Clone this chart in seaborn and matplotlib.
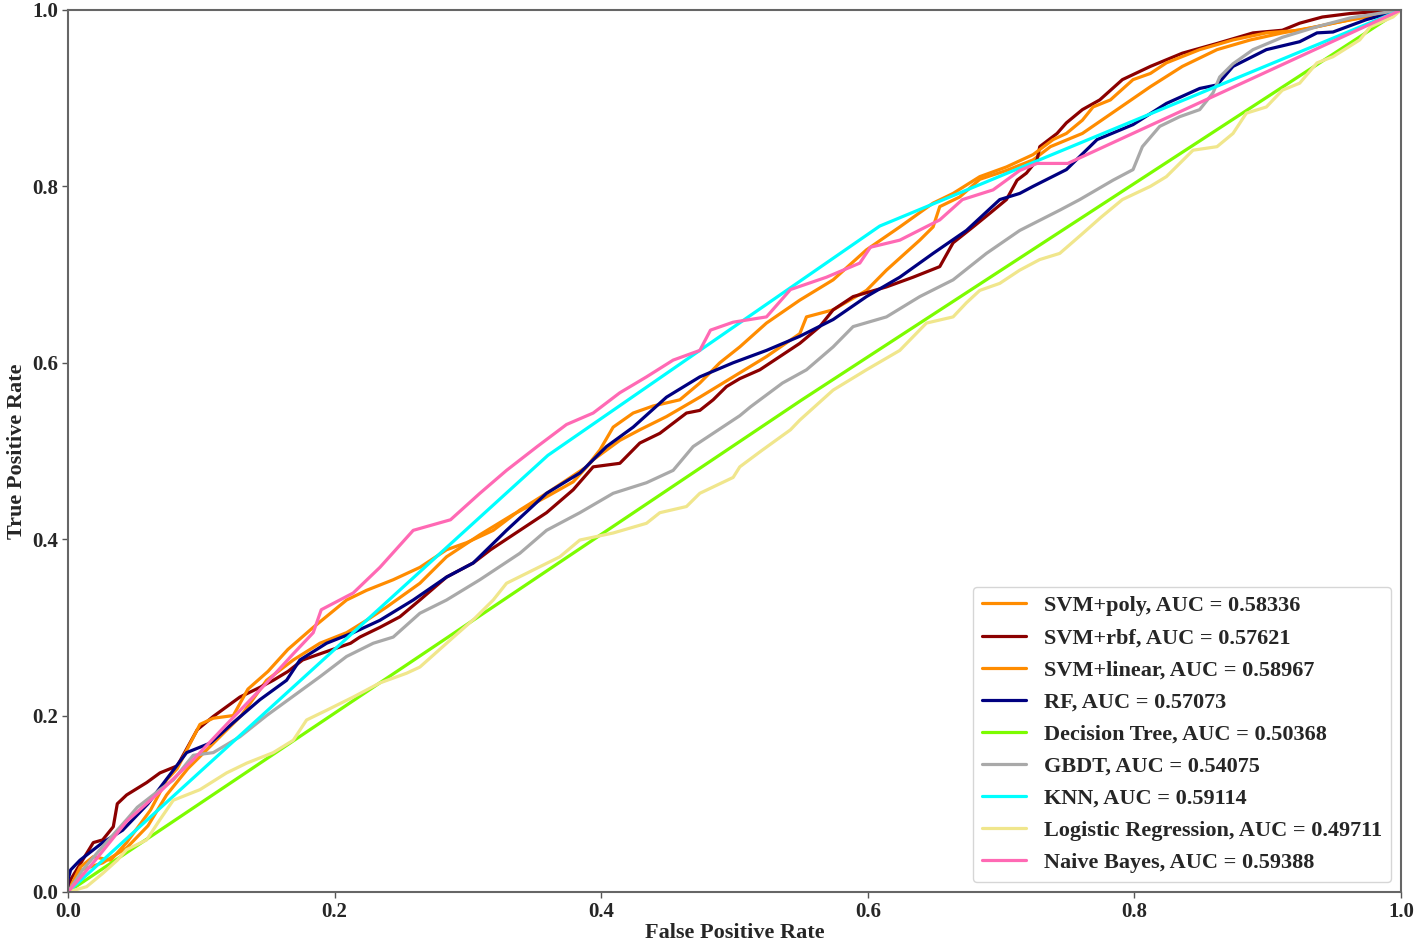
import pandas as pd
import matplotlib
matplotlib.use("Agg")
import matplotlib.pyplot as plt
import seaborn as sns

# ROC points, one pair of lists per model
models = ["SVM+poly", "SVM+rbf", "SVM+linear", "RF", "Decision Tree",
          "GBDT", "KNN", "Logistic Regression", "Naive Bayes"]
aucs = [0.58336, 0.57621, 0.58967, 0.57073, 0.50368, 0.54075, 0.59114, 0.49711, 0.59388]
colors = ["#ff8c00", "#8b0000", "#ff8c00", "#000080", "#7cfc00",
          "#a9a9a9", "#00ffff", "#f0e68c", "#ff69b4"]

poly_fpr = [0, 0.01, 0.026, 0.044, 0.06, 0.074, 0.09, 0.11, 0.13, 0.149, 0.169, 0.189, 0.209, 0.224,
            0.239, 0.264, 0.284, 0.309, 0.334, 0.359, 0.379, 0.394, 0.414, 0.429, 0.449, 0.474, 0.499,
            0.524, 0.549, 0.554, 0.574, 0.599, 0.614, 0.639, 0.649, 0.654, 0.669, 0.684, 0.704, 0.724,
            0.737, 0.761, 0.787, 0.812, 0.836, 0.862, 0.887, 0.911, 0.937, 0.962, 1]
poly_tpr = [0, 0.025, 0.033, 0.05, 0.075, 0.11, 0.14, 0.17, 0.2, 0.24, 0.263, 0.282, 0.294, 0.308,
            0.323, 0.35, 0.38, 0.405, 0.428, 0.448, 0.465, 0.49, 0.512, 0.524, 0.539, 0.561, 0.584,
            0.607, 0.633, 0.652, 0.66, 0.682, 0.705, 0.739, 0.754, 0.777, 0.788, 0.808, 0.818, 0.83,
            0.845, 0.86, 0.887, 0.913, 0.936, 0.955, 0.966, 0.974, 0.981, 0.989, 1]

rbf_fpr = [0, 0.002, 0.019, 0.026, 0.034, 0.037, 0.044, 0.059, 0.069, 0.082, 0.097, 0.109, 0.119,
           0.129, 0.144, 0.154, 0.165, 0.176, 0.191, 0.212, 0.219, 0.234, 0.249, 0.264, 0.284, 0.304,
           0.317, 0.339, 0.359, 0.379, 0.394, 0.414, 0.429, 0.444, 0.464, 0.474, 0.484, 0.494, 0.504,
           0.519, 0.549, 0.564, 0.574, 0.589, 0.614, 0.634, 0.654, 0.664, 0.679, 0.692, 0.704, 0.712,
           0.719, 0.727, 0.729, 0.742, 0.749, 0.761, 0.774, 0.791, 0.812, 0.836, 0.862, 0.889, 0.911,
           0.924, 0.941, 0.962, 1]
rbf_tpr = [0, 0.014, 0.056, 0.059, 0.074, 0.1, 0.11, 0.124, 0.135, 0.143, 0.184, 0.199, 0.21,
           0.221, 0.232, 0.24, 0.25, 0.263, 0.271, 0.282, 0.289, 0.3, 0.312, 0.331, 0.357, 0.373,
           0.388, 0.41, 0.43, 0.456, 0.482, 0.486, 0.509, 0.52, 0.543, 0.546, 0.558, 0.573, 0.582,
           0.592, 0.622, 0.641, 0.66, 0.675, 0.686, 0.697, 0.709, 0.736, 0.754, 0.77, 0.785, 0.807,
           0.815, 0.83, 0.845, 0.86, 0.872, 0.887, 0.898, 0.921, 0.936, 0.951, 0.962, 0.974, 0.977,
           0.985, 0.992, 0.996, 1]

linear_fpr = [0, 0.009, 0.019, 0.032, 0.044, 0.062, 0.074, 0.082, 0.099, 0.109, 0.124, 0.135, 0.15,
              0.165, 0.184, 0.209, 0.224, 0.244, 0.264, 0.284, 0.299, 0.319, 0.339, 0.359, 0.374,
              0.389, 0.399, 0.409, 0.424, 0.439, 0.459, 0.474, 0.489, 0.504, 0.524, 0.549, 0.574,
              0.599, 0.624, 0.649, 0.664, 0.684, 0.704, 0.724, 0.739, 0.749, 0.761, 0.769, 0.782,
              0.799, 0.812, 0.824, 0.849, 0.874, 0.899, 0.924, 0.949, 0.974, 1]
linear_tpr = [0, 0.028, 0.04, 0.036, 0.056, 0.093, 0.127, 0.14, 0.19, 0.197, 0.2, 0.23, 0.25,
              0.275, 0.3, 0.331, 0.342, 0.354, 0.368, 0.388, 0.396, 0.41, 0.433, 0.452, 0.467,
              0.482, 0.501, 0.527, 0.543, 0.551, 0.558, 0.577, 0.6, 0.618, 0.645, 0.671, 0.694,
              0.728, 0.754, 0.781, 0.792, 0.811, 0.822, 0.836, 0.853, 0.86, 0.875, 0.89, 0.898,
              0.921, 0.928, 0.94, 0.955, 0.966, 0.974, 0.977, 0.985, 0.992, 1]

rf_fpr = [0, 0, 0.002, 0.009, 0.026, 0.041, 0.06, 0.075, 0.089, 0.107, 0.124, 0.144, 0.164, 0.174,
          0.194, 0.214, 0.234, 0.259, 0.284, 0.304, 0.329, 0.359, 0.384, 0.404, 0.424, 0.449, 0.474,
          0.499, 0.524, 0.549, 0.574, 0.599, 0.624, 0.649, 0.674, 0.699, 0.714, 0.724, 0.749, 0.772,
          0.799, 0.824, 0.849, 0.862, 0.874, 0.899, 0.924, 0.937, 0.949, 0.974, 1]
rf_tpr = [0, 0.014, 0.025, 0.036, 0.056, 0.07, 0.1, 0.13, 0.158, 0.169, 0.192, 0.218, 0.24, 0.263,
          0.282, 0.294, 0.308, 0.331, 0.357, 0.373, 0.41, 0.452, 0.475, 0.505, 0.527, 0.561, 0.584,
          0.6, 0.614, 0.63, 0.649, 0.675, 0.697, 0.724, 0.75, 0.785, 0.792, 0.8, 0.819, 0.853,
          0.87, 0.894, 0.911, 0.915, 0.936, 0.955, 0.964, 0.974, 0.975, 0.989, 1]

dt_fpr = [0, 0.55, 1]
dt_tpr = [0, 0.5574, 1]

gbdt_fpr = [0, 0.011, 0.024, 0.044, 0.052, 0.069, 0.079, 0.094, 0.109, 0.129, 0.149, 0.169, 0.189,
            0.209, 0.229, 0.244, 0.264, 0.284, 0.309, 0.339, 0.359, 0.384, 0.409, 0.434, 0.454,
            0.469, 0.484, 0.504, 0.512, 0.536, 0.554, 0.574, 0.589, 0.614, 0.639, 0.664, 0.689,
            0.714, 0.744, 0.759, 0.784, 0.799, 0.806, 0.819, 0.834, 0.849, 0.859, 0.864, 0.874,
            0.889, 0.911, 0.937, 0.962, 1]
gbdt_tpr = [0, 0.025, 0.048, 0.082, 0.096, 0.116, 0.127, 0.155, 0.158, 0.176, 0.2, 0.222, 0.244,
            0.267, 0.282, 0.289, 0.316, 0.331, 0.354, 0.384, 0.41, 0.43, 0.452, 0.464, 0.478,
            0.505, 0.52, 0.54, 0.55, 0.577, 0.592, 0.618, 0.641, 0.652, 0.675, 0.694, 0.724,
            0.75, 0.773, 0.785, 0.807, 0.819, 0.845, 0.868, 0.879, 0.887, 0.906, 0.924, 0.939,
            0.955, 0.969, 0.981, 0.991, 1]

knn_fpr = [0, 0.36, 0.609, 1]
knn_tpr = [0, 0.495, 0.755, 1]

lr_fpr = [0, 0.014, 0.026, 0.037, 0.044, 0.059, 0.069, 0.079, 0.099, 0.119, 0.134, 0.154, 0.169,
          0.179, 0.194, 0.214, 0.234, 0.254, 0.264, 0.29, 0.305, 0.319, 0.329, 0.349, 0.369, 0.384,
          0.409, 0.434, 0.444, 0.464, 0.474, 0.499, 0.504, 0.52, 0.542, 0.549, 0.574, 0.599, 0.624,
          0.644, 0.664, 0.674, 0.684, 0.699, 0.714, 0.729, 0.744, 0.76, 0.775, 0.791, 0.812, 0.824,
          0.844, 0.862, 0.874, 0.884, 0.899, 0.911, 0.924, 0.937, 0.949, 0.969, 0.977, 0.994, 1]
lr_tpr = [0, 0.006, 0.021, 0.036, 0.048, 0.059, 0.082, 0.104, 0.116, 0.135, 0.146, 0.158, 0.172,
          0.195, 0.206, 0.221, 0.237, 0.248, 0.255, 0.29, 0.31, 0.331, 0.35, 0.365, 0.38, 0.399,
          0.407, 0.418, 0.43, 0.437, 0.452, 0.47, 0.482, 0.5, 0.524, 0.535, 0.569, 0.592, 0.614,
          0.645, 0.652, 0.668, 0.682, 0.69, 0.705, 0.717, 0.724, 0.745, 0.765, 0.785, 0.8, 0.811,
          0.841, 0.845, 0.86, 0.883, 0.89, 0.909, 0.917, 0.94, 0.947, 0.966, 0.981, 0.992, 1]

nb_fpr = [0, 0.02, 0.044, 0.07, 0.094, 0.119, 0.149, 0.169, 0.184, 0.19, 0.214, 0.234, 0.259, 0.287,
          0.309, 0.329, 0.352, 0.374, 0.394, 0.414, 0.434, 0.454, 0.474, 0.482, 0.499, 0.524, 0.542,
          0.569, 0.594, 0.602, 0.624, 0.654, 0.671, 0.694, 0.714, 0.727, 0.75, 1]
nb_tpr = [0, 0.035, 0.08, 0.115, 0.15, 0.19, 0.237, 0.27, 0.294, 0.32, 0.339, 0.368, 0.41, 0.422,
          0.452, 0.478, 0.505, 0.53, 0.543, 0.566, 0.584, 0.603, 0.614, 0.637, 0.646, 0.652, 0.683,
          0.697, 0.713, 0.731, 0.739, 0.762, 0.785, 0.796, 0.818, 0.826, 0.826, 1]

curves = [(poly_fpr, poly_tpr), (rbf_fpr, rbf_tpr), (linear_fpr, linear_tpr), (rf_fpr, rf_tpr),
          (dt_fpr, dt_tpr), (gbdt_fpr, gbdt_tpr), (knn_fpr, knn_tpr), (lr_fpr, lr_tpr),
          (nb_fpr, nb_tpr)]

# long-form table for seaborn
labels = [f"{n}, AUC = {a:.5f}" for n, a in zip(models, aucs)]
frames = []
for label, (fpr, tpr) in zip(labels, curves):
    frames.append(pd.DataFrame({"fpr": fpr, "tpr": tpr, "model": label}))
df = pd.concat(frames, ignore_index=True)

sns.set_style("ticks")
plt.rcParams["font.family"] = ["Liberation Serif", "DejaVu Serif"]
plt.rcParams["font.weight"] = "bold"

fig, ax = plt.subplots(figsize=(14.16, 9.48), dpi=100)
fig.subplots_adjust(left=0.048, right=0.9894, top=0.9895, bottom=0.0591)

sns.lineplot(data=df, x="fpr", y="tpr", hue="model", hue_order=labels,
             palette=dict(zip(labels, colors)), estimator=None, sort=False,
             linewidth=2.3, ax=ax)

ax.set_xlim(0, 1)
ax.set_ylim(0, 1)
ax.set_xticks([0, 0.2, 0.4, 0.6, 0.8, 1.0])
ax.set_yticks([0, 0.2, 0.4, 0.6, 0.8, 1.0])
ax.tick_params(labelsize=15, length=4, width=1, color="#555555", pad=3)
for lab in ax.get_xticklabels() + ax.get_yticklabels():
    lab.set_fontweight("bold")
ax.set_xlabel("False Positive Rate", fontsize=16, fontweight="bold", labelpad=1)
ax.set_ylabel("True Positive Rate", fontsize=16, fontweight="bold", labelpad=4)
for sp in ax.spines.values():
    sp.set_visible(True)
    sp.set_color("#666666")
    sp.set_linewidth(1.5)

leg = ax.legend(loc="lower right", fontsize=16, labelspacing=0.52, handlelength=2.0,
                borderaxespad=0.45, frameon=True, title=None)
for t in leg.get_texts():
    t.set_fontweight("bold")
for h in leg.get_lines():
    h.set_linewidth(2.3)

fig.savefig("out.png", dpi=100)
